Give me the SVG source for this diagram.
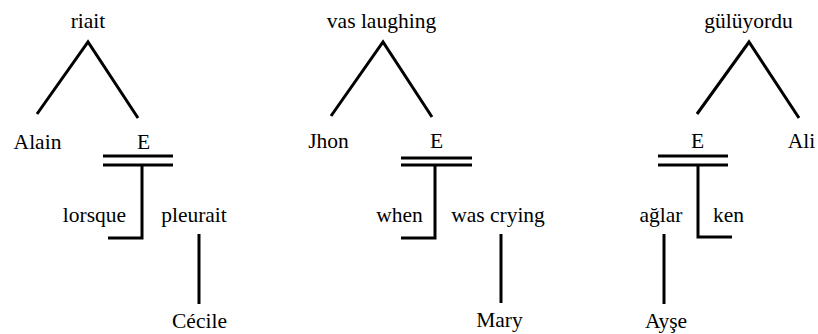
<svg xmlns="http://www.w3.org/2000/svg" width="818" height="334" viewBox="0 0 818 334">
<style>
text{font-size:21.5px;fill:#000;text-anchor:middle}
.c line,.c polyline{stroke:#000;stroke-width:3;fill:none;stroke-linecap:butt}
</style>
<rect width="818" height="334" fill="#fff"/>
<g class="c" id="connectors">
<polyline points="37,114 88,42 138,118"/>
<line x1="103" y1="156" x2="173" y2="156"/>
<line x1="103" y1="165" x2="173" y2="165"/>
<polyline points="142,165 142,238 108,238"/>
<line x1="199" y1="234" x2="199" y2="304"/>
<polyline points="331,116 383,42 432,117"/>
<line x1="401" y1="158" x2="472" y2="158"/>
<line x1="401" y1="165" x2="472" y2="165"/>
<polyline points="435,165 435,238 401,238"/>
<line x1="501" y1="234" x2="501" y2="303"/>
<polyline points="697,114 749,42 799,118"/>
<line x1="658" y1="156" x2="728" y2="156"/>
<line x1="658" y1="165" x2="728" y2="165"/>
<polyline points="698,165 698,237 732,237"/>
<line x1="664" y1="234" x2="664" y2="304"/>
</g>
<g id="riait"><text x="88" y="28" style="font-family:'Liberation Serif'">riait</text></g>
<g id="alain"><text x="37.5" y="149" style="font-family:'Liberation Serif'">Alain</text></g>
<g id="e1"><text x="143.5" y="149" style="font-family:'Liberation Serif'">E</text></g>
<g id="lorsque"><text x="94.5" y="222" style="font-family:'Liberation Serif'">lorsque</text></g>
<g id="pleurait"><text x="194" y="222" style="font-family:'Liberation Serif'">pleurait</text></g>
<g id="cecile"><text x="199.5" y="328" style="font-family:'Liberation Serif'">C&#233;cile</text></g>
<g id="vaslaughing"><text x="381.5" y="28" style="font-family:'Liberation Serif'">vas laughing</text></g>
<g id="jhon"><text x="328.5" y="148" style="font-family:'Liberation Serif'">Jhon</text></g>
<g id="e2"><text x="436.5" y="148" style="font-family:'Liberation Serif'">E</text></g>
<g id="when"><text x="399.5" y="222" style="font-family:'Liberation Serif'">when</text></g>
<g id="wascrying"><text x="498" y="222" style="font-family:'Liberation Serif'">was crying</text></g>
<g id="mary"><text x="499.5" y="327" style="font-family:'Liberation Serif'">Mary</text></g>
<g id="guluyordu"><text x="748.5" y="28" style="font-family:'Liberation Serif'">g&#252;l&#252;yordu</text></g>
<g id="e3"><text x="697.5" y="148" style="font-family:'Liberation Serif'">E</text></g>
<g id="ali"><text x="801.5" y="148" style="font-family:'Liberation Serif'">Ali</text></g>
<g id="aglar"><text x="661" y="222" style="font-family:'Liberation Serif'">a&#287;lar</text></g>
<g id="ken"><text x="728.5" y="222" style="font-family:'Liberation Serif'">ken</text></g>
<g id="ayse"><text x="666" y="328" style="font-family:'Liberation Serif'">Ay&#351;e</text></g>
</svg>
